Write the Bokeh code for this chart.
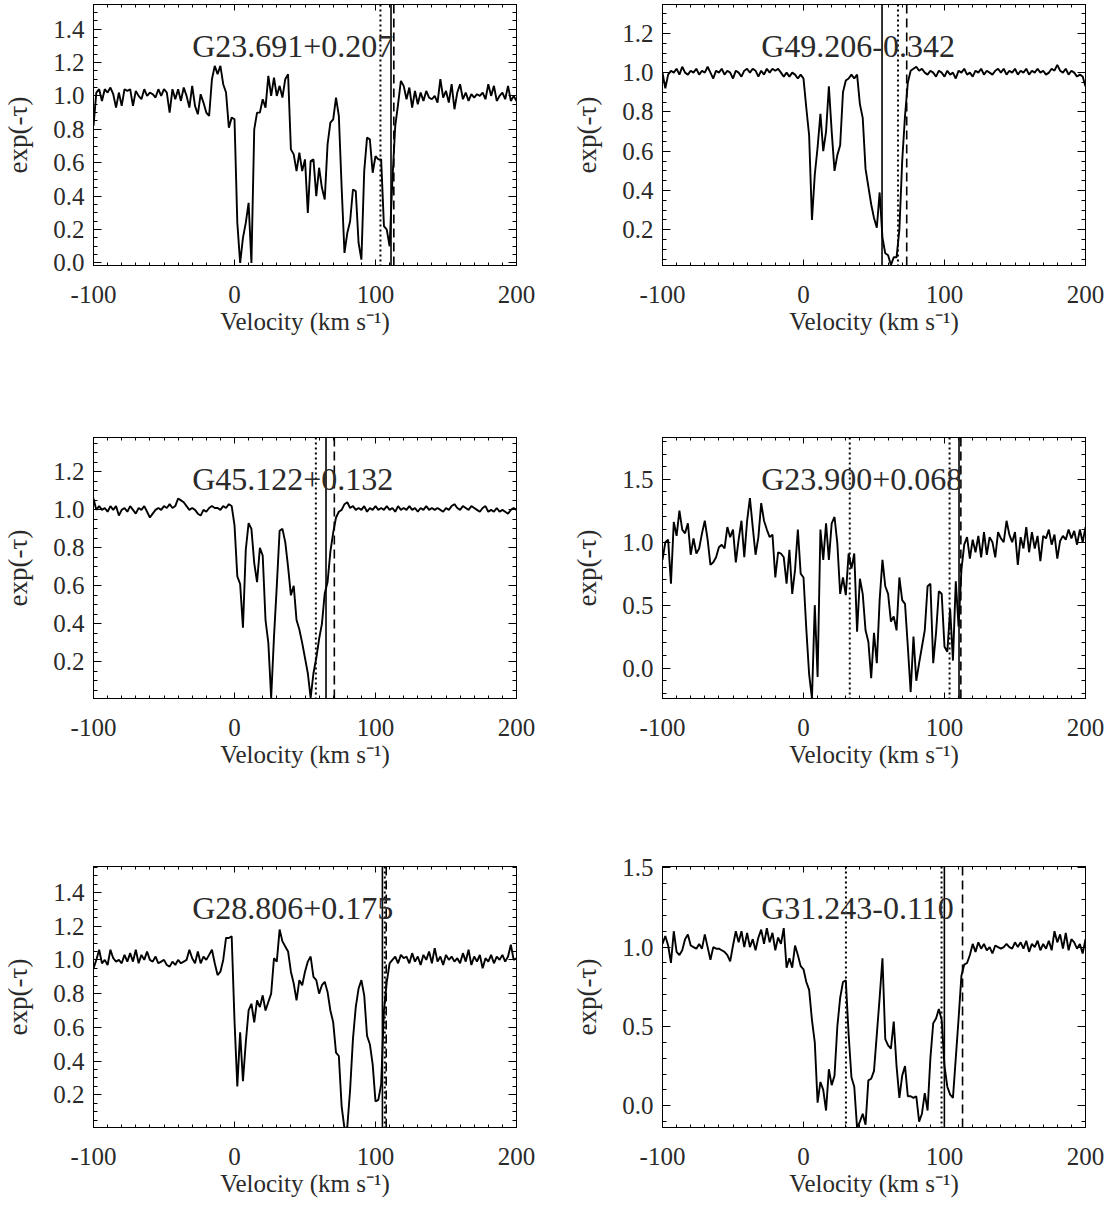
from bokeh.plotting import figure
from bokeh.models import (Range1d, SingleIntervalTicker, LinearAxis, Span, Label,
                          PrintfTickFormatter, CustomLabelingPolicy)
from bokeh.layouts import column, row
from bokeh.embed import file_html
from bokeh.resources import INLINE

# ---------------- data ----------------
VEL = [-100, -98, -96, -94, -92, -90, -88, -86, -84, -82,
       -80, -78, -76, -74, -72, -70, -68, -66, -64, -62,
       -60, -58, -56, -54, -52, -50, -48, -46, -44, -42,
       -40, -38, -36, -34, -32, -30, -28, -26, -24, -22,
       -20, -18, -16, -14, -12, -10, -8, -6, -4, -2,
       0, 2, 4, 6, 8, 10, 12, 14, 16, 18,
       20, 22, 24, 26, 28, 30, 32, 34, 36, 38,
       40, 42, 44, 46, 48, 50, 52, 54, 56, 58,
       60, 62, 64, 66, 68, 70, 72, 74, 76, 78,
       80, 82, 84, 86, 88, 90, 92, 94, 96, 98,
       100, 102, 104, 106, 108, 110, 112, 114, 116, 118,
       120, 122, 124, 126, 128, 130, 132, 134, 136, 138,
       140, 142, 144, 146, 148, 150, 152, 154, 156, 158,
       160, 162, 164, 166, 168, 170, 172, 174, 176, 178,
       180, 182, 184, 186, 188, 190, 192, 194, 196, 198,
       200]

EXPTAU_G23691 = [0.82, 1.02, 1.04, 0.97, 1.04, 1.02, 1.05, 1.01, 0.93, 1.02,
                 0.94, 1.04, 1.03, 1.04, 0.94, 1.03, 1.00, 0.98, 1.04, 1.00,
                 1.02, 1.01, 0.99, 1.04, 1.00, 1.04, 1.02, 0.90, 1.04, 0.98,
                 1.04, 0.97, 1.05, 1.00, 0.93, 1.06, 0.94, 0.89, 1.01, 0.96,
                 0.90, 0.88, 1.10, 1.18, 1.13, 1.18, 1.07, 1.02, 0.81, 0.87,
                 0.86, 0.24, 0.00, 0.15, 0.24, 0.36, 0.00, 0.80, 0.90, 0.90,
                 0.98, 0.93, 1.12, 1.00, 1.11, 1.00, 1.06, 0.99, 1.10, 1.13,
                 0.68, 0.65, 0.55, 0.66, 0.55, 0.62, 0.30, 0.61, 0.62, 0.40,
                 0.57, 0.45, 0.38, 0.71, 0.84, 0.86, 0.99, 0.88, 0.45, 0.06,
                 0.18, 0.25, 0.44, 0.43, 0.12, 0.02, 0.55, 0.75, 0.74, 0.54,
                 0.64, 0.62, 0.62, 0.22, 0.20, 0.10, 0.50, 0.82, 0.95, 1.09,
                 1.06, 0.98, 1.05, 0.93, 1.03, 0.95, 1.02, 0.97, 1.03, 0.99,
                 0.98, 1.00, 0.96, 1.10, 0.99, 1.03, 0.96, 1.07, 0.92, 1.02,
                 1.07, 0.98, 1.02, 0.97, 1.01, 0.99, 1.01, 1.00, 1.02, 0.98,
                 1.07, 1.00, 1.06, 0.97, 1.00, 1.02, 0.98, 1.06, 0.97, 1.00,
                 0.97]

EXPTAU_G49206 = [1.00, 0.92, 0.99, 1.01, 1.00, 1.02, 0.99, 1.03, 1.00, 0.99,
                 1.01, 1.00, 1.02, 0.99, 1.01, 1.00, 1.03, 1.00, 0.97, 1.01,
                 1.00, 1.02, 0.99, 1.01, 1.00, 0.97, 1.01, 1.00, 0.98, 1.01,
                 1.02, 1.00, 1.02, 1.01, 0.98, 1.01, 0.99, 1.02, 1.00, 1.02,
                 1.01, 1.02, 1.00, 0.98, 1.00, 0.98, 1.00, 0.99, 0.97, 0.99,
                 0.97, 0.82, 0.68, 0.25, 0.48, 0.62, 0.79, 0.60, 0.70, 0.93,
                 0.70, 0.50, 0.58, 0.63, 0.90, 0.96, 0.97, 0.99, 0.97, 0.99,
                 0.84, 0.77, 0.51, 0.42, 0.33, 0.26, 0.21, 0.39, 0.16, 0.08,
                 0.07, 0.02, 0.06, 0.06, 0.20, 0.55, 0.78, 0.95, 1.01, 1.02,
                 1.03, 1.01, 1.02, 1.00, 0.99, 1.01, 1.00, 0.98, 1.01, 1.00,
                 0.98, 1.01, 0.99, 1.00, 0.97, 1.01, 1.00, 1.02, 0.99, 1.00,
                 0.98, 1.01, 1.00, 1.02, 0.99, 1.01, 1.00, 0.99, 1.01, 1.02,
                 1.00, 1.02, 0.99, 1.01, 1.00, 1.02, 0.99, 1.01, 1.00, 1.02,
                 0.99, 1.01, 1.00, 1.02, 1.00, 1.01, 0.99, 1.00, 1.02, 1.01,
                 1.04, 1.01, 1.00, 1.02, 0.99, 1.01, 1.00, 0.98, 0.99, 0.98,
                 0.93]

EXPTAU_G45122 = [1.06, 1.00, 1.02, 1.00, 1.01, 0.99, 1.02, 1.00, 1.02, 0.97,
                 1.00, 1.01, 0.99, 1.02, 1.00, 0.98, 1.01, 1.00, 1.02, 0.99,
                 0.96, 0.98, 1.00, 1.01, 1.00, 1.02, 1.01, 1.03, 1.01, 1.02,
                 1.06, 1.05, 1.04, 1.02, 1.00, 1.01, 1.00, 0.98, 0.97, 1.00,
                 0.99, 1.01, 1.02, 1.01, 1.01, 1.00, 1.02, 1.01, 1.03, 1.02,
                 0.92, 0.65, 0.61, 0.38, 0.79, 0.93, 0.90, 0.72, 0.62, 0.80,
                 0.76, 0.42, 0.30, 0.01, 0.33, 0.60, 0.89, 0.90, 0.83, 0.70,
                 0.55, 0.60, 0.42, 0.37, 0.30, 0.22, 0.14, 0.01, 0.14, 0.22,
                 0.32, 0.40, 0.56, 0.62, 0.78, 0.88, 0.96, 0.99, 1.00, 1.03,
                 1.04, 1.01, 1.02, 1.00, 1.01, 1.00, 1.02, 0.99, 1.01, 1.00,
                 1.02, 1.00, 1.01, 1.00, 1.02, 1.00, 1.01, 0.99, 1.02, 1.00,
                 1.01, 1.00, 1.02, 1.00, 1.01, 0.99, 1.01, 1.00, 1.02, 1.00,
                 1.01, 1.00, 1.01, 1.00, 0.99, 1.01, 1.00, 1.02, 1.03, 1.01,
                 1.00, 1.02, 1.01, 1.00, 1.02, 1.01, 1.00, 0.99, 1.01, 1.02,
                 0.99, 1.00, 0.99, 1.01, 0.99, 1.00, 0.99, 0.98, 1.00, 1.01,
                 1.00]

EXPTAU_G23900 = [0.86, 1.00, 1.02, 0.67, 1.16, 1.05, 1.25, 1.10, 1.07, 1.15,
                 0.90, 1.03, 0.91, 0.95, 1.07, 1.17, 1.02, 0.82, 0.84, 0.88,
                 0.96, 0.98, 0.95, 1.12, 1.04, 1.10, 0.84, 1.02, 1.17, 0.88,
                 1.17, 1.35, 1.12, 0.90, 1.04, 1.31, 1.17, 1.10, 1.04, 1.06,
                 0.72, 0.92, 0.91, 0.88, 0.67, 0.94, 0.59, 0.78, 1.10, 0.75,
                 0.72, 0.31, -0.05, -0.24, 0.50, -0.07, 1.10, 0.86, 1.15, 0.86,
                 1.15, 1.20, 0.99, 0.59, 0.72, 0.58, 0.91, 0.79, 0.91, 0.29,
                 0.71, 0.59, 0.30, 0.21, -0.08, 0.28, 0.04, 0.54, 0.86, 0.65,
                 0.59, 0.37, 0.41, 0.30, 0.72, 0.54, 0.51, 0.17, -0.19, 0.25,
                 -0.10, 0.04, 0.17, 0.30, 0.65, 0.67, 0.04, 0.28, 0.61, 0.59,
                 0.17, 0.13, 0.47, 0.06, 0.69, 0.33, 0.78, 0.98, 1.04, 0.87,
                 1.02, 0.92, 1.05, 0.88, 1.08, 0.90, 1.04, 1.00, 0.88, 1.08,
                 1.03, 1.00, 1.17, 1.06, 1.00, 1.08, 0.82, 1.04, 0.95, 1.12,
                 0.92, 1.08, 0.95, 1.05, 0.85, 1.05, 1.03, 1.10, 0.98, 1.06,
                 0.87, 1.01, 1.05, 1.02, 1.10, 1.03, 1.09, 0.98, 1.10, 1.00,
                 1.12]

EXPTAU_G28806 = [0.95, 1.00, 1.06, 0.98, 1.00, 0.97, 1.06, 1.01, 0.99, 1.00,
                 0.98, 1.03, 0.99, 1.04, 0.99, 1.06, 0.98, 1.03, 1.00, 1.05,
                 1.00, 0.99, 1.02, 0.98, 0.99, 1.00, 0.97, 0.96, 0.99, 0.97,
                 1.00, 0.98, 0.99, 1.00, 1.06, 1.01, 0.98, 1.05, 0.98, 1.02,
                 1.00, 1.03, 1.06, 0.98, 0.91, 0.93, 1.00, 1.13, 1.13, 1.14,
                 0.64, 0.25, 0.57, 0.28, 0.51, 0.70, 0.74, 0.63, 0.76, 0.72,
                 0.79, 0.70, 0.75, 0.80, 1.01, 0.99, 1.18, 1.11, 1.08, 1.05,
                 0.93, 0.86, 0.76, 0.88, 0.85, 0.93, 0.99, 1.02, 0.90, 0.88,
                 0.80, 0.85, 0.87, 0.81, 0.70, 0.63, 0.45, 0.43, 0.13, 0.00,
                 0.01, 0.23, 0.53, 0.72, 0.83, 0.88, 0.79, 0.55, 0.50, 0.38,
                 0.16, 0.17, 0.26, 0.70, 0.87, 0.98, 1.00, 1.02, 0.98, 1.03,
                 1.01, 1.02, 0.98, 1.04, 0.99, 1.02, 0.97, 1.03, 1.00, 1.05,
                 0.98, 1.07, 0.99, 1.02, 0.97, 1.03, 1.00, 1.02, 0.99, 1.01,
                 0.98, 1.04, 0.99, 1.06, 0.97, 1.02, 0.99, 1.03, 0.95, 1.01,
                 0.99, 1.03, 0.98, 1.02, 1.00, 1.03, 0.99, 1.02, 1.09, 1.00,
                 1.01]

EXPTAU_G31243 = [1.02, 1.07, 1.01, 0.90, 1.10, 0.97, 0.95, 0.98, 1.05, 1.08,
                 1.01, 1.00, 0.99, 1.02, 0.99, 1.08, 1.00, 0.92, 1.00, 0.99,
                 0.99, 0.98, 0.97, 0.95, 0.91, 1.01, 1.10, 1.03, 1.10, 1.00,
                 1.09, 1.00, 1.05, 0.98, 1.06, 1.11, 1.02, 1.12, 1.03, 1.09,
                 0.98, 1.06, 1.02, 1.12, 0.87, 0.93, 0.87, 1.01, 0.95, 0.88,
                 0.86, 0.78, 0.73, 0.54, 0.40, 0.02, 0.15, 0.10, -0.03, 0.23,
                 0.13, 0.19, 0.50, 0.68, 0.78, 0.79, 0.45, 0.18, 0.12, -0.14,
                 -0.10, -0.05, -0.12, 0.16, 0.17, 0.22, 0.45, 0.68, 0.93, 0.42,
                 0.38, 0.36, 0.53, 0.25, 0.05, 0.19, 0.25, 0.06, 0.06, 0.05,
                 0.06, -0.10, -0.05, 0.08, -0.03, 0.30, 0.52, 0.55, 0.61, 0.54,
                 0.25, 0.12, 0.07, 0.05, 0.30, 0.55, 0.82, 0.89, 0.90, 0.95,
                 1.02, 0.97, 1.03, 0.99, 1.02, 0.98, 1.00, 0.96, 1.01, 1.00,
                 0.99, 1.00, 1.02, 1.00, 0.99, 1.03, 1.00, 1.03, 0.99, 1.04,
                 0.97, 1.02, 1.00, 1.04, 0.98, 1.02, 0.99, 1.04, 0.98, 1.10,
                 1.03, 1.08, 0.99, 1.09, 0.98, 1.05, 1.03, 0.99, 1.02, 0.96,
                 1.05]

SOURCES = ["G23.691+0.207", "G49.206-0.342", "G45.122+0.132",
           "G23.900+0.068", "G28.806+0.175", "G31.243-0.110"]
SPECTRA = [EXPTAU_G23691, EXPTAU_G49206, EXPTAU_G45122,
           EXPTAU_G23900, EXPTAU_G28806, EXPTAU_G31243]

# vertical marker velocities (km/s)
SOLID_V = [[111.0], [55.7], [64.9], [110.3], [104.9], [99.9]]
DOTTED_V = [[103.5], [67.0], [57.7], [32.8, 103.6], [106.6], [30.1, 97.9]]
DASHED_V = [[113.0], [73.2], [70.8], [111.6], [107.6], [112.8]]

# axis limits and tick spacing
X_LIM = (-100, 200)
Y_LIM = [(-0.015, 1.547), (0.018, 1.347), (0.007, 1.381),
         (-0.241, 1.831), (0.006, 1.554), (-0.137, 1.508)]
Y_TICK = [0.2, 0.2, 0.2, 0.5, 0.2, 0.5]
Y_MINOR = [4, 4, 4, 5, 4, 5]

X_LABEL = "Velocity (km s\u207b\u00b9)"
Y_LABEL = "exp(-\u03c4)"

# ---------------- styling ----------------
FONT = "Liberation Serif"
TXT = "#2a2a2a"
FRAME_W, FRAME_H = 423, 261


def style_axis(ax, horizontal, show_labels):
    ax.axis_line_color = "black"
    ax.axis_line_width = 1
    ax.major_tick_line_color = "black"
    ax.minor_tick_line_color = "black"
    ax.major_tick_out = 0
    ax.minor_tick_out = 0
    if horizontal:
        ax.major_tick_in = 6
        ax.minor_tick_in = 3
    else:
        ax.major_tick_in = 8
        ax.minor_tick_in = 4
    if show_labels:
        ax.major_label_text_font = FONT
        ax.major_label_text_font_size = "25px"
        ax.major_label_text_color = TXT
        ax.axis_label_text_font = FONT
        ax.axis_label_text_font_style = "normal"
        ax.axis_label_text_color = TXT
        if horizontal:
            ax.axis_label_text_font_size = "25px"
            ax.major_label_standoff = 20
            ax.axis_label_standoff = 2
        else:
            ax.axis_label_text_font_size = "27px"
            ax.major_label_standoff = 9
            ax.axis_label_standoff = 17
    else:
        # mirrored tick marks only: no labels are drawn on these axes
        ax.major_label_text_font_size = "1px"
        ax.major_label_standoff = 0
        ax.major_label_policy = CustomLabelingPolicy(code="return []")
        ax.axis_label = None


def make_panel(i, border_left, border_right, border_top, border_bottom):
    lo, hi = Y_LIM[i]
    p = figure(frame_width=FRAME_W, frame_height=FRAME_H,
               x_range=Range1d(*X_LIM), y_range=Range1d(lo, hi),
               output_backend="svg", toolbar_location=None,
               min_border_left=border_left, min_border_right=border_right,
               min_border_top=border_top, min_border_bottom=border_bottom,
               background_fill_color="white", border_fill_color="white",
               outline_line_color="black", outline_line_width=1)
    p.xgrid.visible = False
    p.ygrid.visible = False

    p.line(VEL, SPECTRA[i], line_color="black", line_width=1.9)

    for v in SOLID_V[i]:
        p.add_layout(Span(location=v, dimension="height", line_color="black",
                          line_width=1.6))
    for v in DOTTED_V[i]:
        p.add_layout(Span(location=v, dimension="height", line_color="black",
                          line_width=2.0, line_dash="2 3"))
    for v in DASHED_V[i]:
        p.add_layout(Span(location=v, dimension="height", line_color="black",
                          line_width=1.6, line_dash="9 5"))

    xt = SingleIntervalTicker(interval=100, num_minor_ticks=10)
    yt = SingleIntervalTicker(interval=Y_TICK[i], num_minor_ticks=Y_MINOR[i])

    p.xaxis.ticker = xt
    p.xaxis.formatter = PrintfTickFormatter(format="%d")
    p.xaxis.axis_label = X_LABEL
    style_axis(p.xaxis[0], True, True)

    p.yaxis.ticker = yt
    p.yaxis.formatter = PrintfTickFormatter(format="%.1f")
    p.yaxis.axis_label = Y_LABEL
    style_axis(p.yaxis[0], False, True)

    top = LinearAxis(ticker=xt)
    style_axis(top, True, False)
    p.add_layout(top, "above")
    right = LinearAxis(ticker=yt)
    style_axis(right, False, False)
    p.add_layout(right, "right")

    # source name: left edge at -30 km/s, baseline ~41 px below the frame top
    ybase = hi - (41.0 / FRAME_H) * (hi - lo)
    p.add_layout(Label(x=-30, y=ybase, text=SOURCES[i], text_font=FONT,
                       text_font_size="32px", text_color=TXT,
                       text_align="left", text_baseline="alphabetic"))
    return p


# borders per row: (top, bottom) so that frame tops fall at 8, 437, 866 px
ROW_BORDERS = [(0, 168), (0, 154), (14, 78)]

panels = []
for i in range(6):
    left_col = (i % 2 == 0)
    btop, bbot = ROW_BORDERS[i // 2]
    panels.append(make_panel(i, 88, 53 if left_col else 20, btop, bbot))

layout = column(row(panels[0], panels[1]),
                row(panels[2], panels[3]),
                row(panels[4], panels[5]))

open("out.html", "w").write(file_html(layout, INLINE))
